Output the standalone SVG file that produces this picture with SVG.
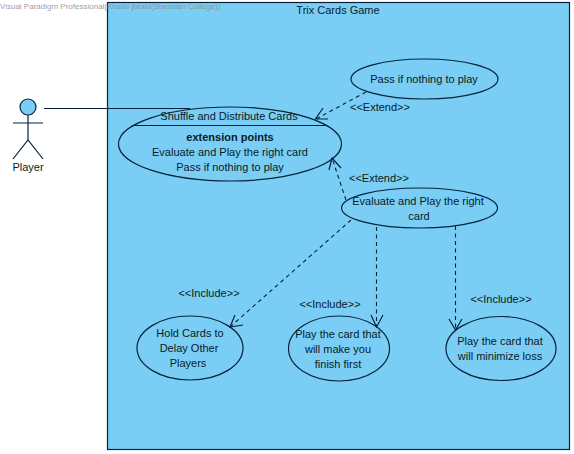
<svg xmlns="http://www.w3.org/2000/svg" width="574" height="454" viewBox="0 0 574 454">
<style>
text{font-family:"Liberation Sans",Arial,sans-serif;font-size:11px;fill:#0b1a26;text-anchor:middle}
.shape{fill:#7aCEF5;stroke:#06233a;stroke-width:1.2}
.line{fill:none;stroke:#06233a;stroke-width:1.2}
.dash{fill:none;stroke:#06233a;stroke-width:1.1;stroke-dasharray:4 3.500}
.wm{font-size:8px;fill:#8a8a8a;text-anchor:start;opacity:.8}
</style>
<rect width="574" height="454" fill="#ffffff"/>
<g id="system">
<rect class="shape" x="107.5" y="2.5" width="462" height="447"/>
<text x="338" y="14">Trix Cards Game</text>
</g>
<g id="actor-player">
<circle class="shape" cx="28" cy="107" r="8"/>
<path class="line" d="M28 115V140M13 123H43M13 159L28 140L43 159"/>
<text x="28" y="171">Player</text>
</g>
<g id="uc-shuffle">
<ellipse class="shape" cx="230" cy="144" rx="111.5" ry="37"/>
<path class="line" d="M132 125.500H327"/>
<text x="229" y="120">Shuffle and Distribute Cards</text>
<text x="230" y="141" style="font-weight:bold">extension points</text>
<text x="230" y="156">Evaluate and Play the right card</text>
<text x="230" y="171">Pass if nothing to play</text>
</g>
<g id="uc-pass">
<ellipse class="shape" cx="424.500" cy="79" rx="73.500" ry="20"/>
<text x="424" y="83">Pass if nothing to play</text>
</g>
<g id="uc-evaluate">
<ellipse class="shape" cx="419.500" cy="208" rx="78" ry="20"/>
<text x="418" y="205">Evaluate and Play the right</text>
<text x="419" y="220">card</text>
</g>
<g id="uc-hold">
<ellipse class="shape" cx="190" cy="348" rx="53" ry="32"/>
<text x="190" y="337">Hold Cards to</text>
<text x="189" y="352">Delay Other</text>
<text x="188" y="367">Players</text>
</g>
<g id="uc-first">
<ellipse class="shape" cx="339" cy="348.500" rx="50.500" ry="32.500"/>
<text x="338" y="338">Play the card that</text>
<text x="338" y="353">will make you</text>
<text x="338" y="368">finish first</text>
</g>
<g id="uc-minimize">
<ellipse class="shape" cx="501" cy="348.500" rx="55" ry="32"/>
<text x="500" y="345">Play the card that</text>
<text x="500" y="360">will minimize loss</text>
</g>
<g id="connectors">
<path class="line" d="M44 108.500H190"/>
<path class="dash" d="M366 92L316 119"/>
<path class="line" d="M323 108L315.500 119L328 119"/>
<path class="dash" d="M346 200L332 158"/>
<path class="line" d="M329 170L332 158L341 168"/>
<path class="dash" d="M351 220L230 327"/>
<path class="line" d="M235 315L230 327L243 325"/>
<path class="dash" d="M376.500 227V327"/>
<path class="line" d="M371 315L376.500 327L383 315"/>
<path class="dash" d="M455.500 226V330"/>
<path class="line" d="M449 319L455.500 330L462 319"/>
<text x="380" y="111">&lt;&lt;Extend&gt;&gt;</text>
<text x="379" y="182">&lt;&lt;Extend&gt;&gt;</text>
<text x="209" y="297">&lt;&lt;Include&gt;&gt;</text>
<text x="330" y="308">&lt;&lt;Include&gt;&gt;</text>
<text x="501" y="303">&lt;&lt;Include&gt;&gt;</text>
</g>
<text class="wm" x="0" y="9">Visual Paradigm Professional(Khalid jbraid(Sheridan College))</text>
</svg>
